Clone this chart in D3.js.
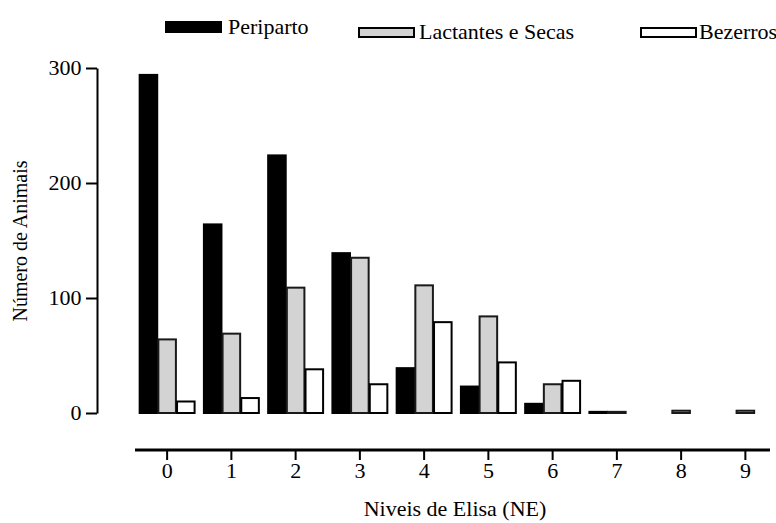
<!DOCTYPE html>
<html>
<head>
<meta charset="utf-8">
<script src="https://cdn.jsdelivr.net/npm/d3@7"></script>
<style>
  html, body { margin: 0; padding: 0; background: #fff; }
  svg { display: block; }
  svg text { font-family: "Liberation Serif", "Times New Roman", Times, "DejaVu Serif", serif; fill: #000; }
</style>
</head>
<body>
<svg id="chart" width="776" height="523"></svg>
<script>
// Elisa levels (NE) on the x axis
const levels = ["0", "1", "2", "3", "4", "5", "6", "7", "8", "9"];
// Animal groups
const seriesNames = ["Periparto", "Lactantes e Secas", "Bezerros"];
// Number of animals per Elisa level, one array per group
const periparto = [294, 164, 224, 139, 39, 23, 8, 1, 0, 0];
const lactantes = [64, 69, 109, 135, 111, 84, 25, 1, 2, 2];
const bezerros  = [10, 13, 38, 25, 79, 44, 28, 0, 0, 0];
const yTicks = [0, 100, 200, 300];

const seriesValues = [periparto, lactantes, bezerros];
const fills = ["#000000", "#d3d3d3", "#ffffff"];
const strokes = ["#000000", "#1a1a1a", "#000000"];
const FONT = 20;      // text size
const WIDEN = 1.1;    // glyphs are drawn slightly wide

const svg = d3.select("#chart");

const x = d3.scaleBand().domain(levels).range([135, 777.5]).paddingInner(0.145).paddingOuter(0.0725);
const xs = d3.scaleBand().domain(seriesNames).range([0, x.bandwidth()]).paddingInner(0.06);
const y = d3.scaleLinear().domain([0, 300]).range([413, 68]);

// horizontal text placed at (px, py) with widened glyphs
function wideText(px, py, str, anchor) {
  return svg.append("text")
    .attr("transform", `translate(${px},${py}) scale(${WIDEN},1)`)
    .attr("text-anchor", anchor || "start")
    .attr("font-size", FONT)
    .text(str);
}

// bars
const rows = levels.map((lv, i) => ({ lv, vals: seriesValues.map((s, k) => ({ k, v: s[i] })) }));
const groups = svg.append("g").selectAll("g").data(rows).join("g")
  .attr("transform", d => `translate(${x(d.lv)},0)`);
groups.selectAll("rect").data(d => d.vals.filter(o => o.v > 0)).join("rect")
  .attr("x", o => xs(seriesNames[o.k]))
  .attr("width", xs.bandwidth())
  .attr("y", o => y(o.v))
  .attr("height", o => Math.max(0.5, y(0) - y(o.v)))
  .attr("fill", o => fills[o.k])
  .attr("stroke", o => strokes[o.k])
  .attr("stroke-width", 2);

// y axis
const yAxis = svg.append("g").attr("transform", "translate(97,0)")
  .call(d3.axisLeft(y).tickValues(yTicks).tickSize(11).tickSizeOuter(0).tickPadding(3));
yAxis.select(".domain").attr("stroke-width", 2);
yAxis.selectAll(".tick line").attr("stroke-width", 2);
yAxis.selectAll("text").attr("font-size", FONT).attr("font-family", null)
  .attr("transform", `scale(${WIDEN},1)`);
yAxis.attr("font-family", null);

// x axis, set apart below the bars
const xAxis = svg.append("g").attr("transform", "translate(0,450)")
  .call(d3.axisBottom(x).tickSize(10).tickSizeOuter(0).tickPadding(4));
xAxis.attr("font-family", null);
xAxis.select(".domain").remove();
xAxis.append("line").attr("x1", 135).attr("x2", 770).attr("stroke", "#000").attr("stroke-width", 3);
xAxis.selectAll(".tick line").attr("stroke-width", 2);
xAxis.selectAll("text").attr("font-size", FONT).attr("transform", `scale(${WIDEN},1)`);

// axis titles
wideText(455, 516, "Niveis de Elisa (NE)", "middle");
svg.append("text").attr("transform", "translate(27,241) rotate(-90)").attr("text-anchor", "middle")
  .attr("font-size", FONT).text("Número de Animais");

// legend
const legendItems = [
  { x: 166, y: 22, h: 10, tx: 228, ty: 34 },
  { x: 359, y: 28, h: 9, tx: 419, ty: 39 },
  { x: 641, y: 28, h: 9, tx: 699, ty: 39 }
];
legendItems.forEach((p, k) => {
  svg.append("rect").attr("x", p.x).attr("y", p.y).attr("width", 55).attr("height", p.h)
    .attr("fill", fills[k]).attr("stroke", "#000").attr("stroke-width", 2);
  wideText(p.tx, p.ty, seriesNames[k]);
});
</script>
</body>
</html>
